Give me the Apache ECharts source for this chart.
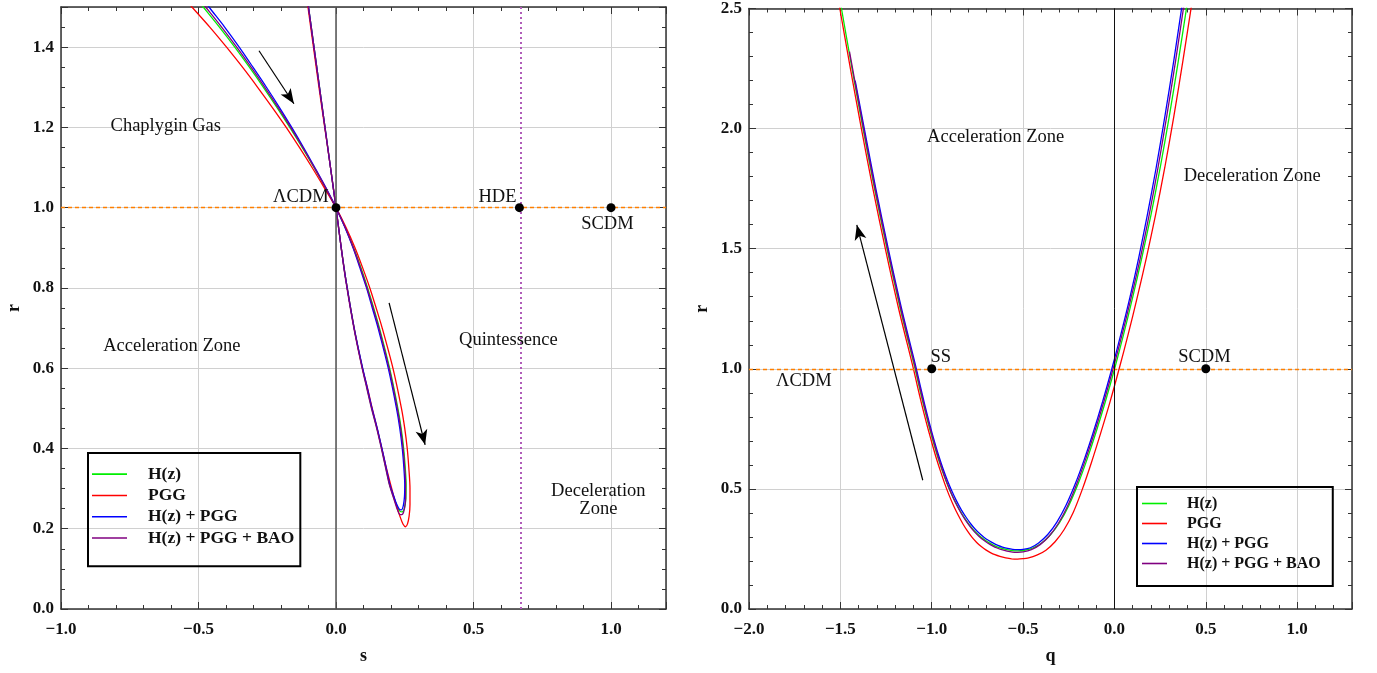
<!DOCTYPE html>
<html>
<head>
<meta charset="utf-8">
<script src="https://cdn.jsdelivr.net/npm/echarts@6/dist/echarts.min.js"></script>
<style>
  html, body { margin: 0; background: #fff; }
  #chart { width: 1377px; height: 673px; }
</style>
</head>
<body>
<div id="chart"></div>
<script>
const names = ["H(z)", "PGG", "H(z) + PGG", "H(z) + PGG + BAO"];
const colors = ["#00ee00", "#ff0000", "#0000ff", "#800080"];
const serif = '"Liberation Serif", "DejaVu Serif", serif';

// s - r plane
const srHz = [[-0.525,1.535],[-0.483,1.5],[-0.424,1.45],[-0.368,1.4],[-0.315,1.35],[-0.264,1.3],[-0.215,1.25],[-0.168,1.2],[-0.123,1.15],[-0.08,1.1],[-0.039,1.05],[0,1.0],[0.034,0.95],[0.064,0.9],[0.091,0.85],[0.115,0.8],[0.137,0.75],[0.158,0.7],[0.195,0.6],[0.225,0.5],[0.237,0.45],[0.246,0.4],[0.252,0.35],[0.255,0.31],[0.254,0.275],[0.249,0.252],[0.241,0.242],[0.232,0.244],[0.221,0.258],[0.208,0.282],[0.195,0.31],[0.182,0.35],[0.166,0.4],[0.149,0.45],[0.13,0.5],[0.113,0.55],[0.096,0.6],[0.066,0.7],[0.036,0.82],[0.019,0.9],[0,1.0],[-0.02,1.1],[-0.04,1.2],[-0.06,1.3],[-0.08,1.4],[-0.1,1.5],[-0.107,1.535]];
const srPGG = [[-0.57,1.535],[-0.524,1.5],[-0.459,1.45],[-0.398,1.4],[-0.34,1.35],[-0.285,1.3],[-0.232,1.25],[-0.181,1.2],[-0.133,1.15],[-0.087,1.1],[-0.043,1.05],[0,1.0],[0.037,0.95],[0.069,0.9],[0.097,0.85],[0.123,0.8],[0.146,0.75],[0.168,0.7],[0.207,0.6],[0.238,0.5],[0.25,0.45],[0.259,0.4],[0.265,0.35],[0.269,0.3],[0.269,0.26],[0.266,0.232],[0.26,0.212],[0.253,0.205],[0.244,0.211],[0.232,0.232],[0.217,0.264],[0.201,0.304],[0.183,0.352],[0.165,0.405],[0.148,0.455],[0.13,0.505],[0.113,0.555],[0.096,0.6],[0.066,0.7],[0.036,0.82],[0.019,0.9],[0,1.0],[-0.02,1.1],[-0.041,1.2],[-0.062,1.3],[-0.082,1.4],[-0.102,1.5],[-0.109,1.535]];
const srHzPGG = [[-0.5,1.535],[-0.462,1.5],[-0.405,1.45],[-0.352,1.4],[-0.302,1.35],[-0.253,1.3],[-0.206,1.25],[-0.161,1.2],[-0.118,1.15],[-0.077,1.1],[-0.037,1.05],[0,1.0],[0.033,0.95],[0.062,0.9],[0.087,0.85],[0.111,0.8],[0.132,0.75],[0.153,0.7],[0.19,0.6],[0.22,0.5],[0.232,0.45],[0.241,0.4],[0.247,0.35],[0.25,0.31],[0.249,0.28],[0.245,0.258],[0.238,0.247],[0.23,0.249],[0.22,0.262],[0.208,0.285],[0.196,0.31],[0.183,0.35],[0.167,0.4],[0.15,0.45],[0.131,0.5],[0.114,0.55],[0.097,0.6],[0.066,0.7],[0.036,0.82],[0.019,0.9],[0,1.0],[-0.02,1.1],[-0.04,1.2],[-0.06,1.3],[-0.08,1.4],[-0.1,1.5],[-0.107,1.535]];
const srAll = [[-0.515,1.535],[-0.474,1.5],[-0.416,1.45],[-0.361,1.4],[-0.309,1.35],[-0.259,1.3],[-0.211,1.25],[-0.165,1.2],[-0.121,1.15],[-0.079,1.1],[-0.038,1.05],[0,1.0],[0.034,0.95],[0.063,0.9],[0.089,0.85],[0.113,0.8],[0.135,0.75],[0.156,0.7],[0.193,0.6],[0.223,0.5],[0.235,0.45],[0.244,0.4],[0.25,0.35],[0.253,0.31],[0.253,0.275],[0.249,0.25],[0.242,0.236],[0.233,0.235],[0.222,0.25],[0.209,0.277],[0.194,0.31],[0.181,0.35],[0.165,0.4],[0.148,0.45],[0.129,0.5],[0.112,0.55],[0.095,0.6],[0.065,0.7],[0.035,0.82],[0.019,0.9],[0,1.0],[-0.02,1.1],[-0.04,1.2],[-0.06,1.3],[-0.08,1.4],[-0.1,1.5],[-0.107,1.535]];

// q - r plane
const qrHz = [[-1.517,2.6],[-1.494,2.5],[-1.436,2.25],[-1.376,2.0],[-1.313,1.75],[-1.245,1.5],[-1.172,1.25],[-1.091,1.0],[-1.07,0.93],[-1.045,0.85],[-1.02,0.775],[-0.995,0.705],[-0.97,0.64],[-0.945,0.582],[-0.92,0.53],[-0.895,0.484],[-0.87,0.444],[-0.845,0.409],[-0.82,0.378],[-0.795,0.351],[-0.77,0.328],[-0.745,0.309],[-0.72,0.293],[-0.695,0.28],[-0.67,0.269],[-0.645,0.26],[-0.62,0.253],[-0.59,0.247],[-0.56,0.243],[-0.53,0.242],[-0.5,0.2435],[-0.45,0.253],[-0.4,0.274],[-0.35,0.309],[-0.3,0.36],[-0.25,0.43],[-0.2,0.519],[-0.15,0.623],[-0.1,0.738],[-0.05,0.863],[0,0.998],[0.05,1.143],[0.1,1.298],[0.15,1.463],[0.2,1.641],[0.25,1.836],[0.3,2.051],[0.35,2.284],[0.4,2.529],[0.42,2.63]];
const qrPGG = [[-1.527,2.6],[-1.503,2.5],[-1.445,2.25],[-1.385,2.0],[-1.322,1.75],[-1.254,1.5],[-1.181,1.25],[-1.1,1.0],[-1.079,0.93],[-1.054,0.85],[-1.029,0.775],[-1.004,0.705],[-0.979,0.638],[-0.954,0.578],[-0.929,0.522],[-0.904,0.472],[-0.879,0.428],[-0.854,0.389],[-0.829,0.354],[-0.804,0.324],[-0.779,0.298],[-0.754,0.277],[-0.729,0.26],[-0.704,0.246],[-0.679,0.235],[-0.654,0.226],[-0.627,0.219],[-0.595,0.213],[-0.563,0.209],[-0.53,0.208],[-0.5,0.2095],[-0.475,0.212],[-0.425,0.224],[-0.375,0.245],[-0.325,0.28],[-0.275,0.331],[-0.225,0.403],[-0.175,0.5],[-0.125,0.612],[-0.075,0.733],[-0.025,0.86],[0.025,0.998],[0.075,1.143],[0.125,1.298],[0.175,1.463],[0.225,1.641],[0.275,1.836],[0.325,2.051],[0.375,2.284],[0.425,2.529],[0.445,2.63]];
const qrHzPGG = [[-1.419,2.2],[-1.369,2.0],[-1.306,1.75],[-1.238,1.5],[-1.165,1.25],[-1.084,1.0],[-1.063,0.93],[-1.038,0.85],[-1.013,0.775],[-0.988,0.705],[-0.963,0.641],[-0.938,0.584],[-0.913,0.533],[-0.888,0.488],[-0.863,0.448],[-0.838,0.413],[-0.813,0.383],[-0.788,0.356],[-0.763,0.333],[-0.738,0.314],[-0.713,0.298],[-0.688,0.285],[-0.663,0.274],[-0.638,0.265],[-0.613,0.258],[-0.585,0.252],[-0.557,0.248],[-0.53,0.247],[-0.5,0.248],[-0.46,0.255],[-0.415,0.275],[-0.365,0.31],[-0.315,0.362],[-0.265,0.432],[-0.215,0.52],[-0.165,0.623],[-0.115,0.738],[-0.065,0.863],[-0.015,0.998],[0.035,1.143],[0.085,1.298],[0.133,1.463],[0.18,1.641],[0.228,1.836],[0.276,2.051],[0.325,2.284],[0.373,2.529],[0.392,2.63]];
const qrAll = [[-1.45,2.32],[-1.373,2.0],[-1.31,1.75],[-1.242,1.5],[-1.169,1.25],[-1.088,1.0],[-1.067,0.93],[-1.042,0.85],[-1.017,0.775],[-0.992,0.705],[-0.967,0.639],[-0.942,0.58],[-0.917,0.527],[-0.892,0.48],[-0.867,0.439],[-0.842,0.403],[-0.817,0.372],[-0.792,0.345],[-0.767,0.322],[-0.742,0.303],[-0.717,0.287],[-0.692,0.274],[-0.667,0.263],[-0.642,0.254],[-0.617,0.247],[-0.588,0.241],[-0.559,0.237],[-0.53,0.236],[-0.5,0.2375],[-0.455,0.247],[-0.407,0.268],[-0.358,0.303],[-0.308,0.355],[-0.258,0.426],[-0.208,0.517],[-0.158,0.623],[-0.108,0.738],[-0.058,0.863],[-0.008,0.998],[0.042,1.143],[0.092,1.298],[0.142,1.463],[0.19,1.641],[0.238,1.836],[0.286,2.051],[0.335,2.284],[0.383,2.529],[0.402,2.63]];

// fixed points
const pointsLeft = [[0, 1], [0.667, 1], [1, 1]];
const pointsRight = [[-1, 1], [0.5, 1]];

// text annotations [x, y, text]
const textLeft = [[-0.619,1.204,"Chaplygin Gas"],[-0.128,1.027,"ΛCDM"],[0.587,1.027,"HDE"],[0.987,0.96,"SCDM"],[-0.597,0.656,"Acceleration Zone"],[0.627,0.671,"Quintessence"],[0.954,0.272,"Deceleration\nZone"]];
const textRight = [[-0.65,1.964,"Acceleration Zone"],[0.754,1.802,"Deceleration Zone"],[-0.951,1.047,"SS"],[0.492,1.047,"SCDM"],[-1.7,0.947,"ΛCDM"]];

// arrows [from, to]
const arrowsLeft = [[[-0.28,1.391],[-0.153,1.259]],[[0.193,0.763],[0.324,0.409]]];
const arrowsRight = [[[-1.049,0.536],[-1.41,1.599]]];

const fmt = (step) => (v) => {
  const k = v / step;
  if (Math.abs(k - Math.round(k)) > 1e-6) return "";
  return v.toFixed(1).replace("-", "\u2212");
};

const tick = (len) => ({ show: true, inside: true, length: len, lineStyle: { color: "#333", width: 1 } });

const frameAxes = (grid, min, max, major, minor, horiz, name) => {
  const base = { type: "value", gridIndex: grid, min: min, max: max, splitLine: { show: false }, axisLabel: { show: false } };
  const line = { show: true, onZero: false, lineStyle: { color: "#333", width: 1.5 } };
  return [
    Object.assign({}, base, {
      position: horiz ? "bottom" : "left",
      interval: major,
      name: name,
      nameLocation: "middle",
      nameGap: 38,
      nameMoveOverlap: false,
      nameRotate: horiz ? 0 : 90,
      nameTextStyle: { fontFamily: serif, fontWeight: "bold", fontSize: 18, color: "#111" },
      axisLine: line,
      axisTick: tick(7),
      axisLabel: { show: true, formatter: fmt(major), fontFamily: serif, fontWeight: "bold", fontSize: 17, color: "#111", margin: horiz ? 12 : 7 },
      splitLine: { show: true, lineStyle: { color: "#d0d0d0", width: 1 } },
    }),
    Object.assign({}, base, { position: horiz ? "bottom" : "left", interval: minor, axisLine: { show: false, onZero: false }, axisTick: tick(4) }),
    Object.assign({}, base, { position: horiz ? "top" : "right", interval: major, axisLine: line, axisTick: tick(7) }),
    Object.assign({}, base, { position: horiz ? "top" : "right", interval: minor, axisLine: { show: false, onZero: false }, axisTick: tick(4) }),
  ];
};

const curve = (data, i, ax) => ({
  type: "line",
  name: names[i],
  data: data,
  xAxisIndex: ax,
  yAxisIndex: ax,
  smooth: 0.3,
  symbol: "none",
  clip: true,
  z: 3,
  lineStyle: { color: colors[i], width: 1.3 },
  itemStyle: { color: colors[i] },
});

const arrowLines = (list) =>
  list.map((a) => [
    { coord: a[0], symbol: "none" },
    { coord: a[1], symbol: "arrow", symbolSize: [9, 15] },
  ]);

const refSeries = (ax, lines, arrows) => ({
  type: "line",
  data: [],
  xAxisIndex: ax,
  yAxisIndex: ax,
  silent: true,
  z: 4,
  markLine: {
    silent: true,
    symbol: "none",
    animation: false,
    label: { show: false },
    lineStyle: { color: "#000", width: 1.2, type: "solid", opacity: 1 },
    data: lines.concat(arrowLines(arrows)),
  },
});

const dotSeries = (ax, pts) => ({
  type: "scatter",
  data: pts,
  xAxisIndex: ax,
  yAxisIndex: ax,
  symbolSize: 9,
  z: 10,
  itemStyle: { color: "#000", opacity: 1 },
});

const textSeries = (ax, list) => ({
  type: "scatter",
  xAxisIndex: ax,
  yAxisIndex: ax,
  symbolSize: 1,
  silent: true,
  z: 11,
  itemStyle: { color: "rgba(0,0,0,0)", opacity: 1 },
  data: list.map((t) => ({ name: t[2], value: [t[0], t[1]] })),
  label: { show: true, position: "inside", formatter: "{b}", fontFamily: serif, fontSize: 18.5, lineHeight: 18, color: "#111", opacity: 1 },
});

const legendBox = (left, top, w, pad, size, lh, textPad) => ({
  data: names,
  orient: "vertical",
  left: left,
  top: top,
  icon: "rect",
  itemWidth: w,
  itemHeight: 1.6,
  itemGap: 3,
  padding: pad,
  borderColor: "#000",
  borderWidth: 2,
  selectedMode: false,
  textStyle: { fontFamily: serif, fontWeight: "bold", fontSize: size, lineHeight: lh, color: "#111", padding: [0, 0, 0, textPad] },
});

const chart = echarts.init(document.getElementById("chart"));

chart.setOption({
  animation: false,
  backgroundColor: "#fff",
  grid: [
    { left: 61, top: 7, width: 605, height: 602 },
    { left: 749, top: 7, width: 603, height: 602 },
  ],
  xAxis: frameAxes(0, -1, 1.2, 0.5, 0.1, true, "s").concat(frameAxes(1, -2, 1.3, 0.5, 0.1, true, "q")),
  yAxis: frameAxes(0, 0, 1.5, 0.2, 0.05, false, "r").concat(frameAxes(1, 0, 2.5, 0.5, 0.1, false, "r")),
  legend: [
    legendBox(88, 453, 35, [12, 6, 19, 4], 17.5, 18.3, 16),
    legendBox(1137, 487, 25, [8, 12, 14, 5], 16, 17, 15),
  ],
  series: [
    refSeries(0, [
      { yAxis: 1, lineStyle: { color: "#ff7f00", type: [4, 3], width: 1.3 } },
      { xAxis: 0, lineStyle: { color: "#555", type: "solid", width: 1.5 } },
      { xAxis: 0.667, lineStyle: { color: "#b05cb8", type: [2, 3], width: 2 } },
    ], arrowsLeft),
    curve(srHz, 0, 0),
    curve(srPGG, 1, 0),
    curve(srHzPGG, 2, 0),
    curve(srAll, 3, 0),
    dotSeries(0, pointsLeft),
    textSeries(0, textLeft),

    refSeries(4, [
      { yAxis: 1, lineStyle: { color: "#ff7f00", type: [4, 3], width: 1.3 } },
      { xAxis: 0, lineStyle: { color: "#111", type: "solid", width: 1 } },
    ], arrowsRight),
    curve(qrHz, 0, 4),
    curve(qrPGG, 1, 4),
    curve(qrHzPGG, 2, 4),
    curve(qrAll, 3, 4),
    dotSeries(4, pointsRight),
    textSeries(4, textRight),
  ],
});
</script>
</body>
</html>
